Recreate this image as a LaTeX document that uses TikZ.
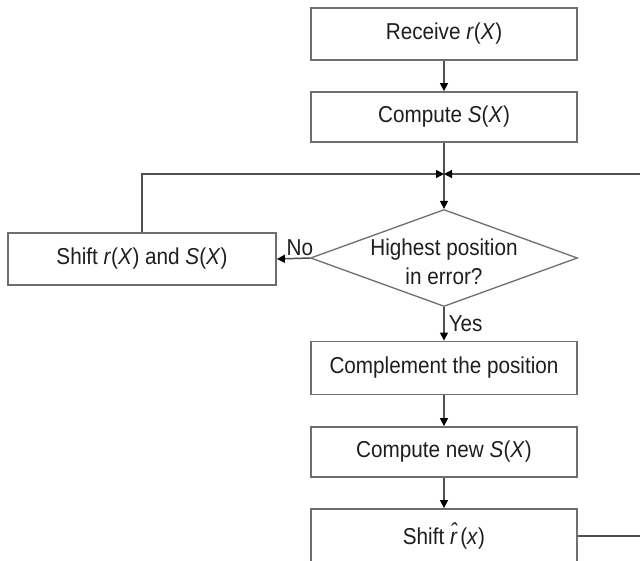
\documentclass[tikz,border=0pt]{standalone}
\usepackage{fontspec}
\setmainfont{Liberation Sans}[FakeStretch=0.9]
\usetikzlibrary{arrows.meta,shapes.geometric}
\definecolor{edge}{HTML}{6E6E6E}
\definecolor{wire}{HTML}{505050}
\definecolor{ink}{HTML}{1E1E1E}
\begin{document}
\begin{tikzpicture}[x=1pt,y=-1pt,
  font=\fontsize{23}{27}\selectfont, text=ink,
  stepbox/.style={draw=edge, line width=1.8pt, fill=white, rectangle,
    minimum width=266pt, minimum height=52pt, inner sep=0pt},
  decision/.style={draw=edge, line width=1.3pt, fill=white, diamond,
    minimum width=267pt, minimum height=97pt, inner sep=-60pt, align=center},
  flow/.style={draw=wire, line width=1.5pt,
    -{Triangle[length=8pt,width=8pt,fill=black,color=black]}},
  wireline/.style={draw=wire, line width=1.5pt}]
\useasboundingbox (0,0) rectangle (640,560);
\clip (0,0) rectangle (640,560);

% main column
\node[stepbox] (recv) at (444,34) {Receive \textit{r}(\textit{X})};
\node[stepbox, minimum height=50pt] (comp) at (444,117) {Compute \textit{S}(\textit{X})};
\coordinate (join) at (444,174);
\node[decision] (dec) at (444,258) {\rule{0pt}{25pt}Highest position\\[2pt]in error?};
\node[stepbox, minimum width=268pt] (shiftrs) at (142,259)
  {Shift \textit{r}(\textit{X}) and \textit{S}(\textit{X})};
\node[stepbox, minimum height=53pt] (compl) at (444,368) {Complement the position};
\node[stepbox, minimum height=50pt] (newS) at (444,452) {Compute new \textit{S}(\textit{X})};
\node[stepbox, minimum height=54pt] (shifthat) at (444,536) {Shift \textit{\^{r}}(\textit{x})};

% loop-back path leaving the right edge
\coordinate (outbot) at (670,536);
\coordinate (outtop) at (670,174);

% connectors
\draw[flow] (recv) -- (comp);
\draw[wireline] (comp) -- (join);
\draw[flow] (join) -- (dec.north);
\draw[flow] (dec.west) -- (shiftrs.east)
  node[pos=0.3, above=2pt, inner sep=0pt] (nolbl) {No};
\draw[flow] (shiftrs.north) |- (join);
\draw[wireline] (shifthat.east) -- (outbot) -- (outtop);
\draw[flow] (outtop) -- (join);
\draw[flow] (dec.south) -- (compl.north)
  node[midway, right=4pt, inner sep=0pt] (yeslbl) {Yes};
\draw[flow] (compl) -- (newS);
\draw[flow] (newS) -- (shifthat);
\end{tikzpicture}
\end{document}
